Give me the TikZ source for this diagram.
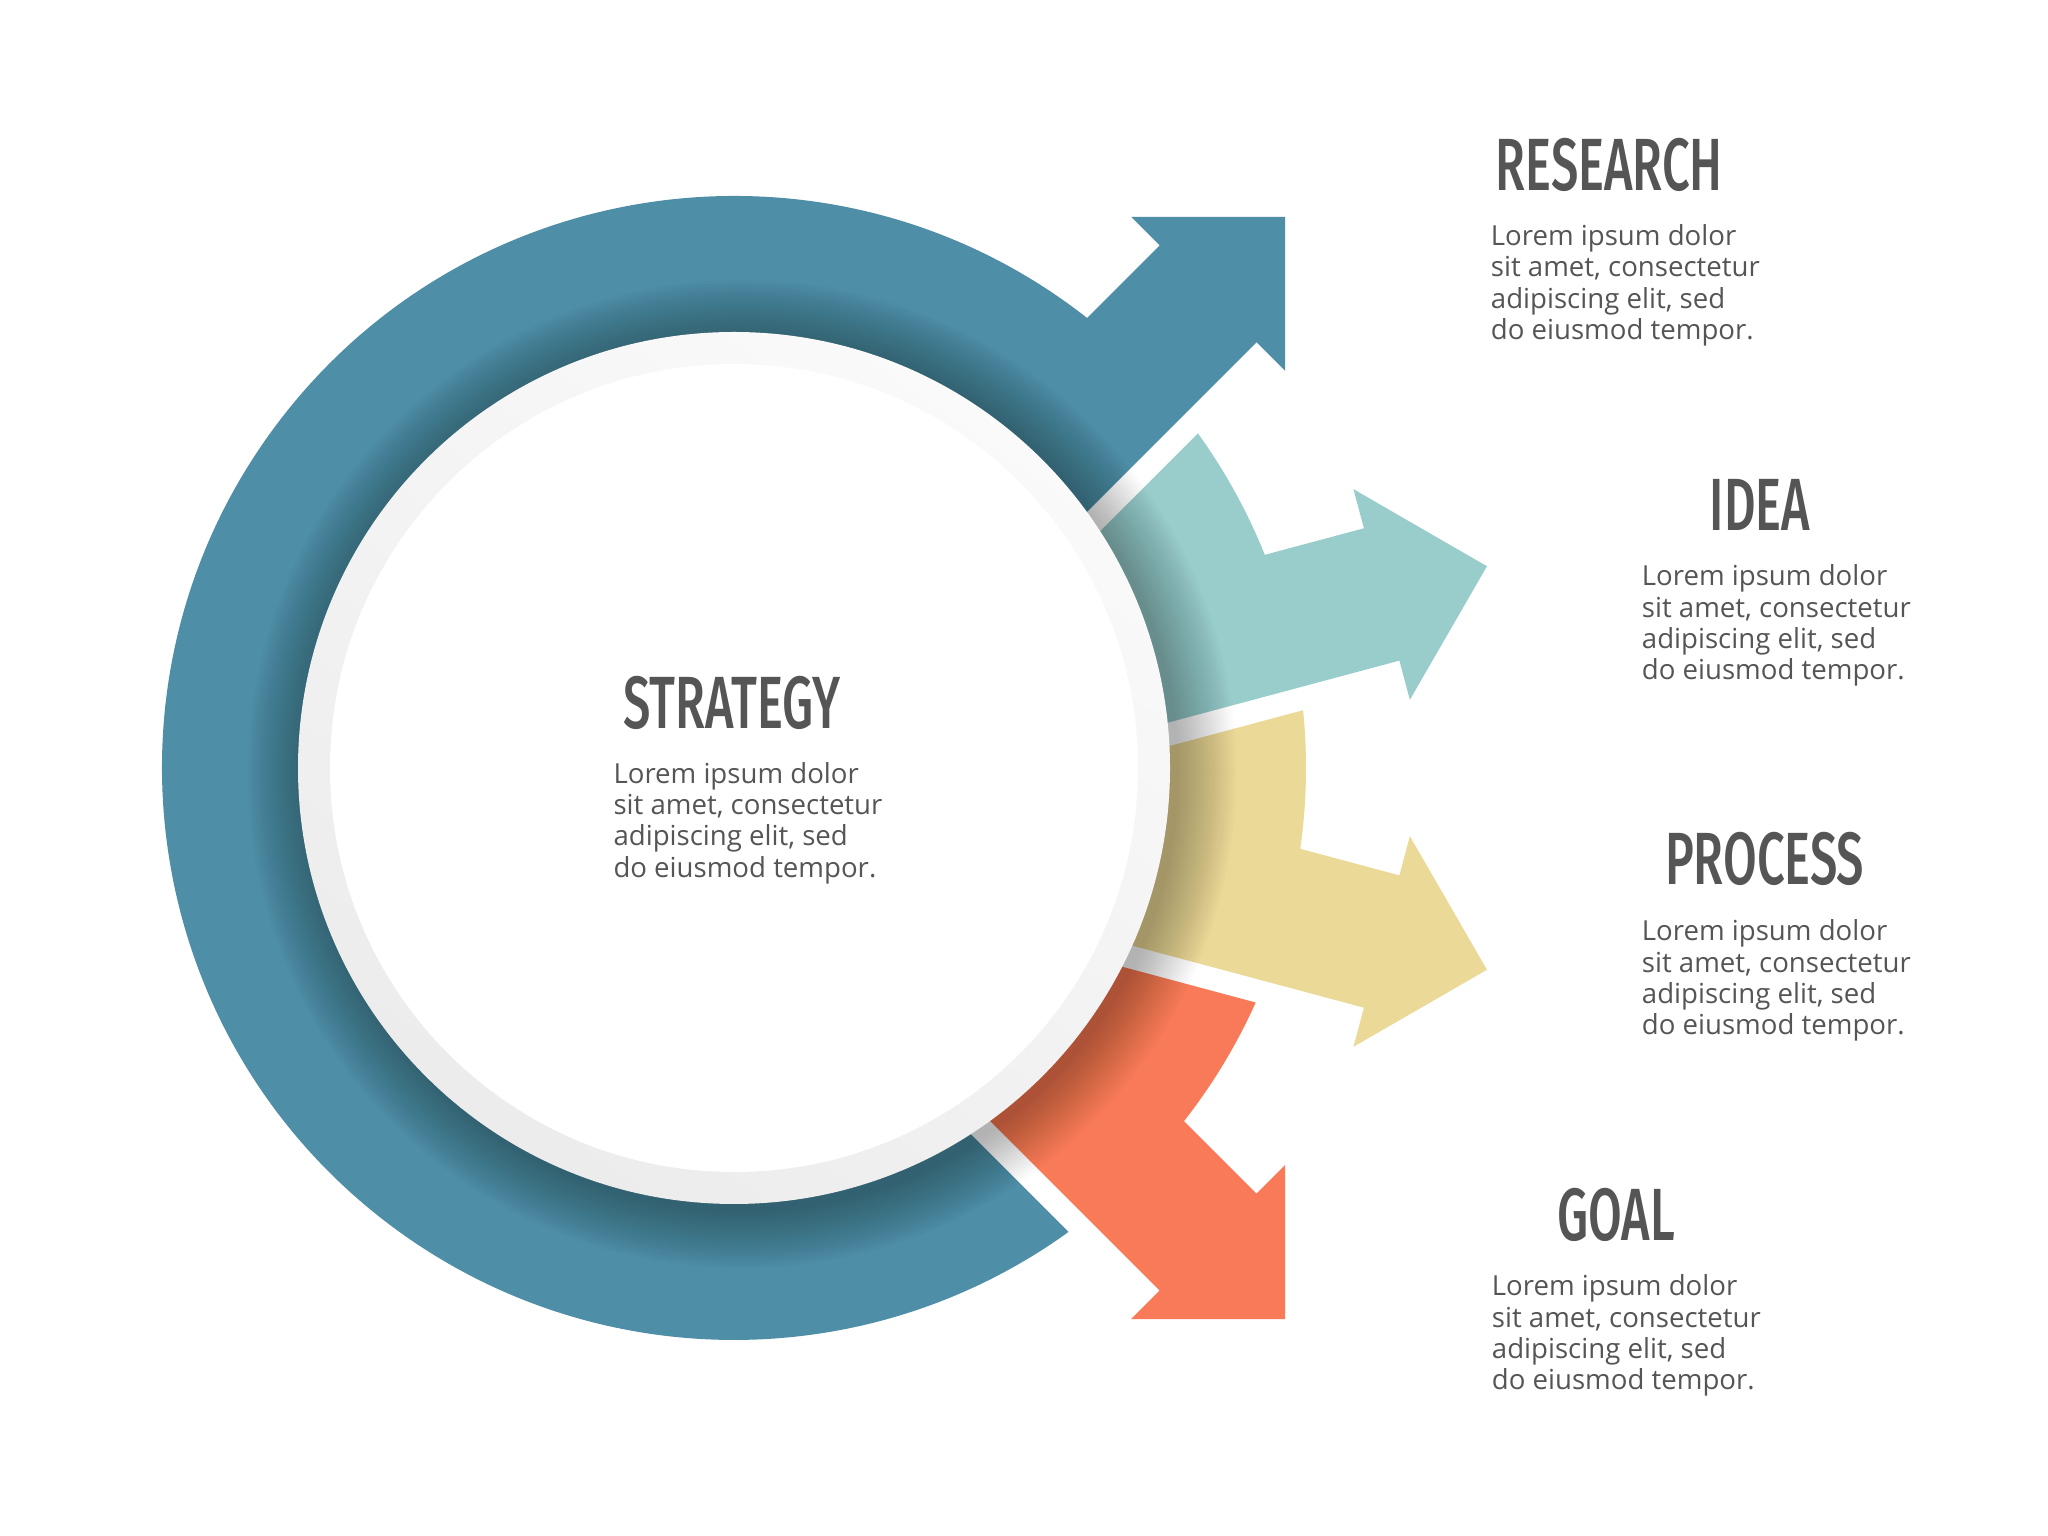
\documentclass[tikz,border=0pt]{standalone}
\usepackage{fontspec}
\setmainfont{Open Sans}
\newfontfamily\headfont[FakeStretch=0.66]{Fira Sans Medium}
\definecolor{ringblue}{HTML}{4E8EA6}
\definecolor{ideateal}{HTML}{98CDCB}
\definecolor{procsand}{HTML}{EBD998}
\definecolor{goalcoral}{HTML}{F97A58}
\definecolor{txtgray}{HTML}{555555}
\newcommand{\blurbtext}{Lorem ipsum dolor\\sit amet, consectetur\\adipiscing elit, sed\\do eiusmod tempor.}

\begin{document}
\begin{tikzpicture}[x=1pt, y=1pt,
  heading/.style={font=\headfont\fontsize{74}{74}\selectfont, text=txtgray, inner sep=0pt, anchor=base},
  blurb/.style={font=\fontsize{27.6}{31.3}\selectfont, text=txtgray, inner sep=0pt, align=left, anchor=base west}
]
  \useasboundingbox (0,0) rectangle (2048,1536);
  \fill[white] (0,0) rectangle (2048,1536);
  \coordinate (c) at (734,768);
  \coordinate (shadowc) at (742,762);

  % side arrows
  \foreach \a/\col in {15/ideateal, -15/procsand, -45/goalcoral}{
    \begin{scope}[shift={(c)}, rotate=\a]
      \fill[\col] (200,-68.5) -- (670.5,-68.5) -- (670.5,-109) -- (779.5,0)
        -- (670.5,109) -- (670.5,68.5) -- (567.88,68.5)
        arc[start angle=6.878, end angle=20.795, radius=572]
        -- (218.95,20.76) -- cycle;
    \end{scope}
  }
  % blue ring with its arrow
  \begin{scope}[shift={(c)}, rotate=45]
    \fill[ringblue] (200,-68.5) -- (670.5,-68.5) -- (670.5,-109) -- (779.5,0)
      -- (670.5,109) -- (670.5,68.5) -- (567.88,68.5)
      arc[start angle=6.878, end angle=260.8, radius=572]
      -- (-91.5,-200) -- cycle;
  \end{scope}

  % soft shadow under the hub
  \foreach \i in {1,...,20}
    \fill[black, opacity=0.016] (shadowc) circle[radius={434+3*\i}];
  \shade[top color=gray!4, bottom color=gray!15, shading angle=-35] (c) circle[radius=436];
  \fill[white] (c) circle[radius=404];

  \node[heading] (strategy) at (731.7,807.7) {STRATEGY};
  \node[blurb] (strategytxt) at (613.3,658.8) {\blurbtext};
  \node[heading] (research) at (1609.3,1345.3) {RESEARCH};
  \node[blurb] (researchtxt) at (1490.7,1196.4) {\blurbtext};
  \node[heading] (idea) at (1760,1005) {IDEA};
  \node[blurb] (ideatxt) at (1641.7,856.1) {\blurbtext};
  \node[heading] (process) at (1764.7,651) {PROCESS};
  \node[blurb] (processtxt) at (1641.7,501.1) {\blurbtext};
  \node[heading] (goal) at (1616.3,295) {GOAL};
  \node[blurb] (goaltxt) at (1491.7,146.1) {\blurbtext};
\end{tikzpicture}
\end{document}
